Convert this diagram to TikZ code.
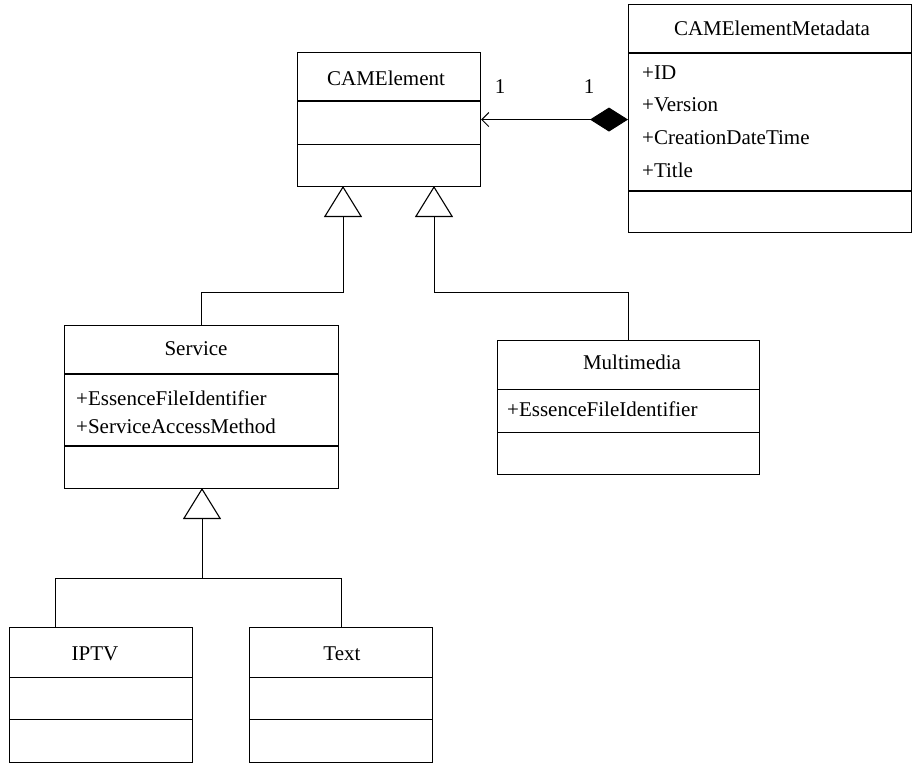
\documentclass[tikz,border=0pt]{standalone}
\usepackage{fontspec}
\setmainfont{Liberation Serif}
\usetikzlibrary{arrows.meta,calc}
\begin{document}
\begin{tikzpicture}[x=1pt,y=-1pt,
  cls/.style={draw,line width=1.1pt,rectangle,anchor=north west,inner sep=0pt},
  div/.style={line width=1.4pt},
  conn/.style={line width=1pt},
  gen/.style={line width=1pt,-{Triangle[open,length=31pt,width=38pt,line width=1.1pt]}},
  txt/.style={font=\fontsize{21}{25}\selectfont,inner sep=0pt,anchor=base},
  att/.style={font=\fontsize{21}{25}\selectfont,inner sep=0pt,anchor=base west}]
\useasboundingbox (0,0) rectangle (912,763);
\fill[white] (0,0) rectangle (912,763);

% CAMElement
\node[cls,minimum width=183pt,minimum height=134pt] (cam) at (297,52) {};
\draw[div] ($(cam.north west)+(0,49)$) -- ($(cam.north east)+(0,49)$);
\draw[conn] ($(cam.north west)+(0,92)$) -- ($(cam.north east)+(0,92)$);
\node[txt] (camt) at (386,85) {CAMElement};

% CAMElementMetadata
\node[cls,minimum width=283pt,minimum height=228pt] (meta) at (628,4) {};
\draw[div] ($(meta.north west)+(0,49)$) -- ($(meta.north east)+(0,49)$);
\draw[div] ($(meta.north west)+(0,187)$) -- ($(meta.north east)+(0,187)$);
\node[txt] (metat) at (772,35) {CAMElementMetadata};
\node[att] (m1) at (642,79) {+ID};
\node[att] (m2) at (642,111) {+Version};
\node[att] (m3) at (642,144) {+CreationDateTime};
\node[att] (m4) at (642,177) {+Title};

% Service
\node[cls,minimum width=274pt,minimum height=163pt] (svc) at (64,325) {};
\draw[div] ($(svc.north west)+(0,49)$) -- ($(svc.north east)+(0,49)$);
\draw[div] ($(svc.north west)+(0,121)$) -- ($(svc.north east)+(0,121)$);
\node[txt] (svct) at (196,355) {Service};
\node[att] (s1) at (76,405) {+EssenceFileIdentifier};
\node[att] (s2) at (76,433) {+ServiceAccessMethod};

% Multimedia
\node[cls,minimum width=262pt,minimum height=134pt] (mm) at (497,340) {};
\draw[conn] ($(mm.north west)+(0,49)$) -- ($(mm.north east)+(0,49)$);
\draw[conn] ($(mm.north west)+(0,92)$) -- ($(mm.north east)+(0,92)$);
\node[txt] (mmt) at (632,369) {Multimedia};
\node[att] (mm1) at (507,416) {+EssenceFileIdentifier};

% IPTV
\node[cls,minimum width=183pt,minimum height=135pt] (iptv) at (9,627) {};
\draw[conn] ($(iptv.north west)+(0,50)$) -- ($(iptv.north east)+(0,50)$);
\draw[conn] ($(iptv.north west)+(0,92)$) -- ($(iptv.north east)+(0,92)$);
\node[txt] (iptvt) at (95,660) {IPTV};

% Text
\node[cls,minimum width=183pt,minimum height=135pt] (text) at (249,627) {};
\draw[conn] ($(text.north west)+(0,50)$) -- ($(text.north east)+(0,50)$);
\draw[conn] ($(text.north west)+(0,92)$) -- ($(text.north east)+(0,92)$);
\node[txt] (textt) at (342,660) {Text};

% connector points
\coordinate (g1) at (343,186);
\coordinate (g2) at (434,186);
\coordinate (g3) at (202,488);
\coordinate (i1) at (55,627);
\coordinate (b1) at (0,292);
\coordinate (b2) at (0,578);

% generalizations
\draw[gen] (svc.north) -- (svc.north |- b1) -| (g1);
\draw[gen] (mm.north) -- (mm.north |- b1) -| (g2);
\draw[conn] (i1) |- (text.north |- b2) -- (text.north);
\draw[gen] (g3 |- b2) -- (g3);

% composition
\draw[line width=1pt,{Diamond[length=38pt,width=24pt]}-{Straight Barb[length=7pt,width=14pt,line width=1pt]}] (meta.west |- cam.east) -- (cam.east);
\node[txt] (l1) at (500,93) {1};
\node[txt] (l2) at (589,93) {1};
\end{tikzpicture}
\end{document}
